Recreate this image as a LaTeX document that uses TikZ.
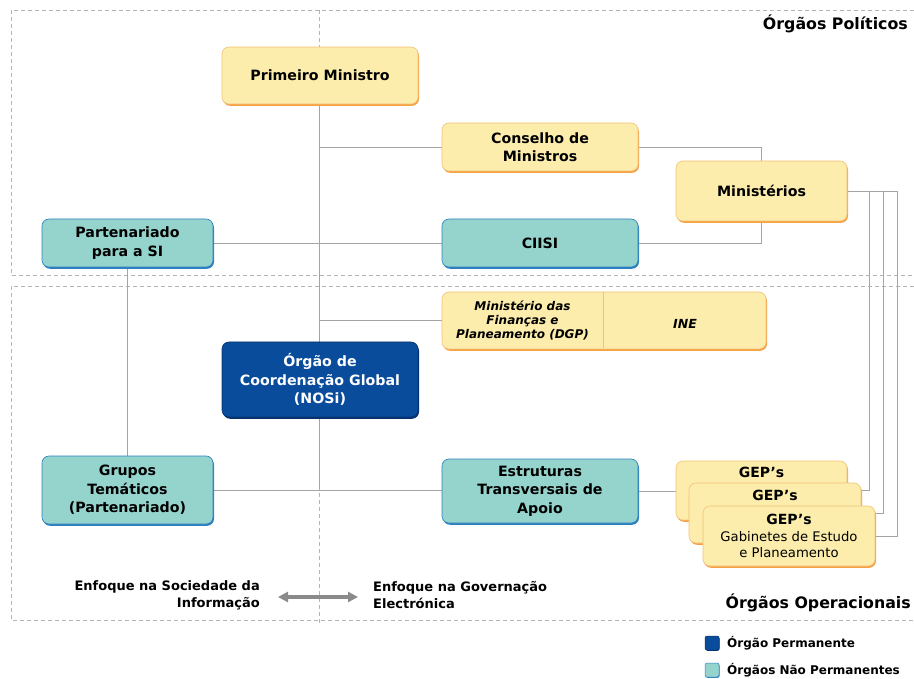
\documentclass[tikz,border=0pt]{standalone}
\usepackage{fontspec}
\setmainfont{DejaVu Sans}
\usetikzlibrary{shadows,backgrounds,arrows.meta}
\definecolor{yfill}{HTML}{FCEDAC}
\definecolor{yline}{HTML}{F3C27A}
\definecolor{yshadow}{HTML}{F5A043}
\definecolor{tfill}{HTML}{95D3CD}
\definecolor{tline}{HTML}{2E7FBF}
\definecolor{bfill}{HTML}{0A4C9C}
\definecolor{bline}{HTML}{06336F}
\definecolor{linegray}{HTML}{A4A4A4}
\definecolor{dashgray}{HTML}{B4B4B4}
\definecolor{arrowgray}{HTML}{8A8A8A}
\begin{document}
\begin{tikzpicture}[x=1pt,y=-1pt,
  box/.style={rounded corners=7pt, align=center, inner sep=2pt,
    font=\bfseries\fontsize{14.2}{18.5}\selectfont},
  ybox/.style={box, fill=yfill, draw=yline, line width=0.6pt,
    drop shadow={shadow xshift=1pt,shadow yshift=-1.8pt,fill=yshadow,opacity=1}},
  tbox/.style={box, fill=tfill, draw=tline, line width=0.6pt,
    drop shadow={shadow xshift=1pt,shadow yshift=-1.8pt,fill=tline,opacity=1}},
  bbox/.style={box, fill=bfill, draw=bline, line width=0.6pt, text=white,
    drop shadow={shadow xshift=1pt,shadow yshift=-1.8pt,fill=bline,opacity=1}},
  conn/.style={draw=linegray, line width=0.7pt},
  frame/.style={draw=dashgray, line width=0.5pt, dash pattern=on 4pt off 3pt},
  lbl/.style={font=\bfseries\fontsize{13}{17}\selectfont, inner sep=0pt},
  geplbl/.style={font=\bfseries\fontsize{14}{17}\selectfont, inner sep=0pt},
  leglbl/.style={font=\bfseries\fontsize{12}{14}\selectfont, inner sep=0pt, anchor=west},
  legsq/.style={rounded corners=2pt, minimum width=14pt, minimum height=14pt, inner sep=0pt, line width=0.5pt}
]
\useasboundingbox (0,0) rectangle (914,679);

% nodes
\node[ybox, minimum width=196pt, minimum height=57pt] (pm) at (320,75.5) {Primeiro Ministro};
\node[ybox, minimum width=196pt, minimum height=48pt] (cm) at (540,147) {Conselho de\\Ministros};
\node[ybox, minimum width=171pt, minimum height=60pt] (min) at (761.5,191) {Ministérios};
\node[tbox, minimum width=196pt, minimum height=48pt] (ciisi) at (540,243) {CIISI};
\node[tbox, minimum width=171pt, minimum height=48pt] (part) at (127.5,243) {Partenariado\\para a SI};
\node[ybox, minimum width=324pt, minimum height=57pt] (mfp) at (604,320.5) {};
\node[font=\bfseries\itshape\fontsize{12}{14}\selectfont, align=center, inner sep=0pt] (mfpt) at (522.5,320.5) {Ministério das\\Finanças e\\Planeamento (DGP)};
\node[font=\bfseries\itshape\fontsize{12.5}{14}\selectfont, inner sep=0pt] (ine) at (685,324) {INE};
\node[bbox, minimum width=196pt, minimum height=75pt] (nosi) at (320,379.5) {Órgão de\\Coordenação Global\\(NOSi)};
\node[tbox, minimum width=171pt, minimum height=68pt] (gt) at (127.5,490) {Grupos\\Temáticos\\(Partenariado)};
\node[tbox, minimum width=196pt, minimum height=64pt] (eta) at (540,491) {Estruturas\\Transversais de\\Apoio};
\node[ybox, minimum width=171pt, minimum height=59pt] (gep1) at (761.5,490.5) {};
\node[geplbl] (gep1t) at (761.5,472) {GEP’s};
\node[ybox, minimum width=172pt, minimum height=60pt] (gep2) at (775,513) {};
\node[geplbl] (gep2t) at (775,495) {GEP’s};
\node[ybox, minimum width=172pt, minimum height=60pt] (gep3) at (789,536) {};
\node[geplbl] (gep3t) at (789,519) {GEP’s};
\node[font=\fontsize{13.2}{16}\selectfont, align=center, inner sep=0pt] (gep3d) at (789,545) {Gabinetes de Estudo\\e Planeamento};

\draw[draw=yline, line width=0.6pt] (603,292.5) -- (603,348.5);

% titles
\node[font=\bfseries\fontsize{15.8}{18}\selectfont, anchor=east, inner sep=0pt] (tpol) at (908,24) {Órgãos Políticos};
\node[font=\bfseries\fontsize{15.8}{18}\selectfont, anchor=east, inner sep=0pt] (top) at (911,603) {Órgãos Operacionais};
\node[lbl, anchor=east, align=right] (esi) at (260,595) {Enfoque na Sociedade da\\Informação};
\node[lbl, anchor=west, align=left] (egov) at (373,595) {Enfoque na Governação\\Electrónica};
\coordinate (al) at (278,597);
\coordinate (ar) at (358,597);
\draw[arrowgray, line width=3.5pt, {Triangle[width=10pt,length=10pt]}-{Triangle[width=10pt,length=10pt]}] (al) -- (ar);

% legend
\node[legsq, fill=bfill, draw=bline, drop shadow={shadow xshift=0.6pt,shadow yshift=-0.8pt,fill=bline,opacity=1}] (lg1) at (712,643) {};
\node[leglbl] (lg1t) at (727,643) {Órgão Permanente};
\node[legsq, fill=tfill, draw=tline, drop shadow={shadow xshift=0.6pt,shadow yshift=-0.8pt,fill=tline,opacity=1}] (lg2) at (712,670) {};
\node[leglbl] (lg2t) at (727,670) {Órgãos Não Permanentes};

\begin{scope}[on background layer]
  % frames
  \draw[frame] (914,10) -- (11,10) -- (11,275) -- (914,275);
  \draw[frame] (914,286) -- (11,286) -- (11,620) -- (914,620);
  \draw[frame] (319,10) -- (319,625);
  % connectors
  \coordinate (vbot) at (319,489);
  \draw[conn] (pm.south -| vbot) -- (vbot);
  \draw[conn] (vbot |- cm.west) -- (cm.west);
  \draw[conn] (part.east) -- (part.east -| ciisi.west);
  \draw[conn] (vbot |- mfp.west) -- (mfp.west);
  \draw[conn] (gt.east) -- (gt.east -| eta.west);
  \draw[conn] (part.south) -- (gt.north);
  \draw[conn] (cm.east) -| (min.north);
  \draw[conn] (ciisi.east) -| (min.south);
  \draw[conn] (eta.east) -- (eta.east -| gep1.west);
  \coordinate (m1) at (869,191);
  \coordinate (m2) at (883,191);
  \coordinate (m3) at (897,191);
  \draw[conn] (min.east) -- (m3);
  \draw[conn] (m1) |- (gep1.east);
  \draw[conn] (m2) |- (gep2.east);
  \draw[conn] (m3) |- (gep3.east);
\end{scope}
\end{tikzpicture}
\end{document}
